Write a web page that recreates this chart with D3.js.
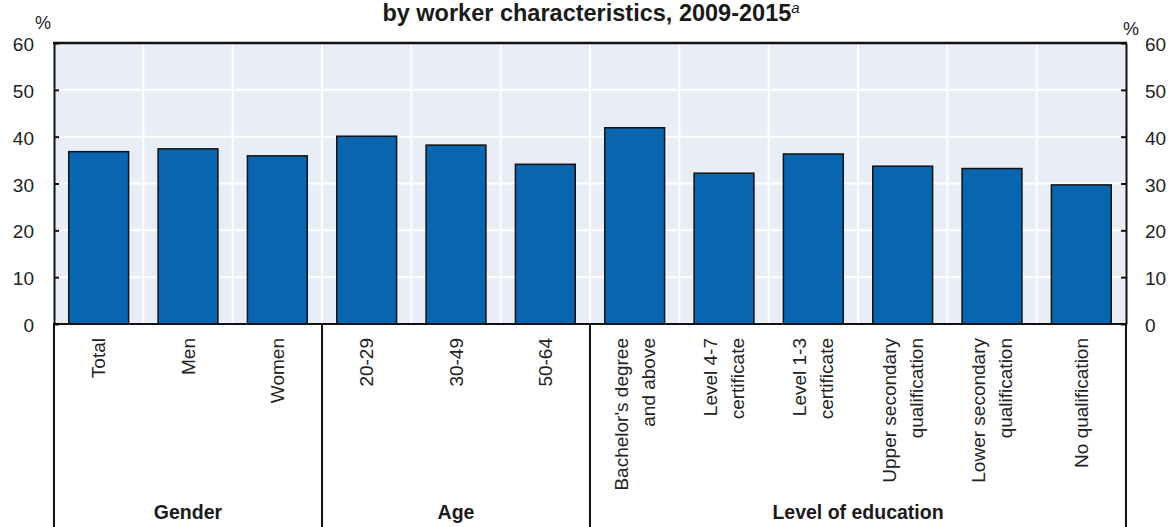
<!DOCTYPE html>
<html>
<head>
<meta charset="utf-8">
<script src="https://cdn.jsdelivr.net/npm/d3@7"></script>
<style>
  body { margin: 0; background: #fff; }
  svg { display: block; font-family: "Liberation Sans", Arial, sans-serif; }
</style>
</head>
<body>
<div id="chart"></div>
<script>
// categories (lines of each rotated label) and their groups
const categories = ["Total", "Men", "Women", "20-29", "30-49", "50-64",
  "Bachelor's degree", "Level 4-7", "Level 1-3", "Upper secondary", "Lower secondary", "No qualification"];
const categoryLines = [
  ["Total"], ["Men"], ["Women"], ["20-29"], ["30-49"], ["50-64"],
  ["Bachelor's degree", "and above"], ["Level 4-7", "certificate"], ["Level 1-3", "certificate"],
  ["Upper secondary", "qualification"], ["Lower secondary", "qualification"], ["No qualification"]
];
const values = [36.8, 37.4, 35.9, 40.1, 38.2, 34.1, 41.9, 32.2, 36.3, 33.7, 33.2, 29.7];
const groups = ["Gender", "Age", "Level of education"];
const groupSizes = [3, 3, 6];
const yTicks = [0, 10, 20, 30, 40, 50, 60];

const W = 1174, H = 527;
const plotL = 54, plotR = 1126, plotT = 43, plotB = 324;

const svg = d3.select("#chart").append("svg")
  .attr("width", W).attr("height", H);

const x = d3.scaleBand().domain(categories).range([plotL, plotR]).paddingInner(0.33).paddingOuter(0.165);
const xb = d3.scaleBand().domain(categories).range([plotL, plotR]); // full bands for grid/separators
const y = d3.scaleLinear().domain([0, 60]).range([plotB, plotT]);

// plot background
svg.append("rect")
  .attr("x", plotL).attr("y", plotT)
  .attr("width", plotR - plotL).attr("height", plotB - plotT)
  .attr("fill", "#e9eef6");

// horizontal grid
svg.append("g").selectAll("line")
  .data(yTicks.filter(d => d > 0 && d < 60))
  .join("line")
  .attr("x1", plotL).attr("x2", plotR)
  .attr("y1", d => y(d)).attr("y2", d => y(d))
  .attr("stroke", "#fff").attr("stroke-width", 2);

// vertical grid at band boundaries
svg.append("g").selectAll("line")
  .data(categories.slice(1))
  .join("line")
  .attr("x1", d => xb(d)).attr("x2", d => xb(d))
  .attr("y1", plotT).attr("y2", plotB)
  .attr("stroke", "#fff").attr("stroke-width", 2);

// bars
svg.append("g").selectAll("rect")
  .data(values)
  .join("rect")
  .attr("x", (d, i) => x(categories[i]))
  .attr("y", d => y(d))
  .attr("width", x.bandwidth())
  .attr("height", d => y(0) - y(d))
  .attr("fill", "#0866b0")
  .attr("stroke", "#111")
  .attr("stroke-width", 1.5);

// axes
const axL = svg.append("g").attr("transform", `translate(${plotL},0)`)
  .call(d3.axisLeft(y).tickValues(yTicks).tickSizeInner(-5).tickSizeOuter(0).tickPadding(20));
const axR = svg.append("g").attr("transform", `translate(${plotR},0)`)
  .call(d3.axisRight(y).tickValues(yTicks).tickSizeInner(-5).tickSizeOuter(0).tickPadding(19));
[axL, axR].forEach(a => {
  a.select(".domain").attr("stroke", "#111").attr("stroke-width", 2);
  a.selectAll(".tick line").attr("stroke", "#111").attr("stroke-width", 2);
  a.selectAll(".tick text").attr("font-size", 19).attr("fill", "#222").attr("dy", "0.4em")
    .attr("font-family", "'Liberation Sans', Arial, sans-serif");
});

// top frame line and baseline
svg.append("line").attr("x1", plotL - 1).attr("x2", plotR + 1).attr("y1", plotT).attr("y2", plotT)
  .attr("stroke", "#111").attr("stroke-width", 2.5);
svg.append("line").attr("x1", plotL - 1).attr("x2", plotR + 1).attr("y1", y(0)).attr("y2", y(0))
  .attr("stroke", "#111").attr("stroke-width", 2);

// unit labels
svg.append("text").attr("x", 43).attr("y", 29).attr("text-anchor", "middle")
  .attr("font-size", 18).attr("fill", "#222").text("%");
svg.append("text").attr("x", 1131).attr("y", 35).attr("text-anchor", "middle")
  .attr("font-size", 18).attr("fill", "#222").text("%");

// title (second line visible)
const title = svg.append("text").attr("x", 591).attr("y", 21).attr("text-anchor", "middle")
  .attr("font-size", 23.5).attr("font-weight", "bold").attr("fill", "#1a1a1a");
title.append("tspan").text("by worker characteristics, 2009-2015");
title.append("tspan").attr("font-size", 15).attr("font-style", "italic").attr("font-weight", "normal")
  .attr("dy", -8).text("a");

// group separators below the axis
let bounds = [0];
groupSizes.forEach((n, i) => bounds.push(bounds[i] + n));
svg.append("g").selectAll("line")
  .data(bounds)
  .join("line")
  .attr("x1", d => d < categories.length ? xb(categories[d]) : plotR)
  .attr("x2", d => d < categories.length ? xb(categories[d]) : plotR)
  .attr("y1", plotB).attr("y2", H)
  .attr("stroke", "#111").attr("stroke-width", 2);

// rotated category labels
const lineH = 27;
svg.append("g").selectAll("text")
  .data(categoryLines)
  .join("text")
  .attr("transform", (d, i) => `translate(${xb(categories[i]) + xb.bandwidth() / 2},338) rotate(-90)`)
  .attr("text-anchor", "end")
  .attr("font-size", 19)
  .attr("fill", "#222")
  .each(function(lines) {
    const t = d3.select(this);
    lines.forEach((s, j) => {
      t.append("tspan").attr("x", 0)
        .attr("y", (j - (lines.length - 1) / 2) * lineH)
        .attr("dy", "0.35em").text(s);
    });
  });

// group labels
svg.append("g").selectAll("text")
  .data(groups)
  .join("text")
  .attr("x", (d, i) => {
    const a = xb(categories[bounds[i]]);
    const b = bounds[i + 1] < categories.length ? xb(categories[bounds[i + 1]]) : plotR;
    return (a + b) / 2;
  })
  .attr("y", 519)
  .attr("text-anchor", "middle")
  .attr("font-size", 19.5)
  .attr("font-weight", "bold")
  .attr("fill", "#1a1a1a")
  .text(d => d);
</script>
</body>
</html>
